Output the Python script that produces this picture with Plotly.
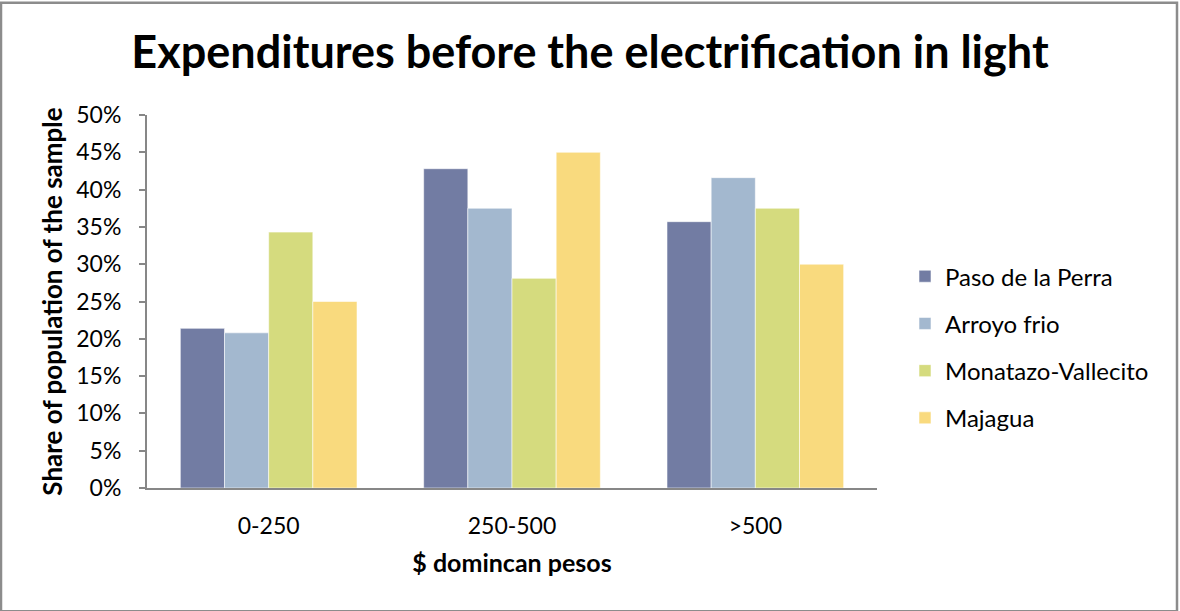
import plotly.graph_objects as go

# Expenditure brackets (Dominican pesos) and share of sampled population per community
categories = ["0-250", "250-500", ">500"]
paso_de_la_perra = [0.214, 0.428, 0.357]
arroyo_frio = [0.208, 0.375, 0.416]
monatazo_vallecito = [0.343, 0.281, 0.375]
majagua = [0.25, 0.45, 0.30]

series_names = ["Paso de la Perra", "Arroyo frio", "Monatazo-Vallecito", "Majagua"]
series_values = [paso_de_la_perra, arroyo_frio, monatazo_vallecito, majagua]
series_colors = ["#727CA3", "#A3B8CF", "#D5DB7E", "#F9DA7E"]

W, H = 1180, 611
ML, MR, MT, MB = 147, 303, 114.5, 122.5
PW, PH = W - ML - MR, H - MT - MB
FONT = "Lato"
AXIS_GRAY = "#878787"

fig = go.Figure()
for name, vals, col in zip(series_names, series_values, series_colors):
    fig.add_trace(go.Bar(
        name=name, x=categories, y=vals, legendgroup=name,
        marker=dict(color=col, line=dict(color="rgba(255,255,255,0.55)", width=1)),
    ))

fig.update_layout(
    width=W, height=H,
    margin=dict(l=ML, r=MR, t=MT, b=MB, autoexpand=False),
    paper_bgcolor="white", plot_bgcolor="white",
    barmode="group", bargap=0.274, bargroupgap=0,
    font=dict(family=FONT, color="#000000"),
    title=dict(
        text="<b>Expenditures before the electrification in light</b>",
        font=dict(family=FONT, size=45, color="#000000"),
        x=0.5, xanchor="center", xref="container",
        y=1 - 52 / H, yanchor="middle", yref="container",
    ),
    legend=dict(
        x=1 + (905 - (ML + PW)) / PW, xanchor="left",
        y=(H - MB - 254) / PH, yanchor="top",
        font=dict(family=FONT, size=24, color="#000000"),
        tracegroupgap=13, bgcolor="rgba(0,0,0,0)",
    ),
    xaxis=dict(
        showline=True, linecolor=AXIS_GRAY, linewidth=2,
        ticks="", showgrid=False, zeroline=False,
        tickfont=dict(family=FONT, size=23, color="#000000"),
        ticklabelstandoff=16,
        title=dict(text="<b>$ domincan pesos</b>",
                   font=dict(family=FONT, size=25, color="#000000"), standoff=17),
    ),
    yaxis=dict(
        range=[0, 0.5], dtick=0.05, tickformat=".0%",
        showline=True, linecolor=AXIS_GRAY, linewidth=2,
        ticks="outside", ticklen=6, tickwidth=2, tickcolor=AXIS_GRAY,
        showgrid=False, zeroline=False,
        tickfont=dict(family=FONT, size=23, color="#000000"),
        ticklabelstandoff=13,
        title=dict(text="<b>Share of population of the sample</b>",
                   font=dict(family=FONT, size=26, color="#000000"), standoff=6),
    ),
)

# Outer chart border
fig.add_shape(
    type="rect", xref="paper", yref="paper",
    x0=(1 - ML) / PW, x1=(1177 - ML) / PW,
    y0=(H - MB - 612) / PH, y1=(H - MB - 2) / PH,
    line=dict(color="#8C8C8C", width=2.5), fillcolor="rgba(0,0,0,0)", layer="below",
)

fig.write_html("out.html")
